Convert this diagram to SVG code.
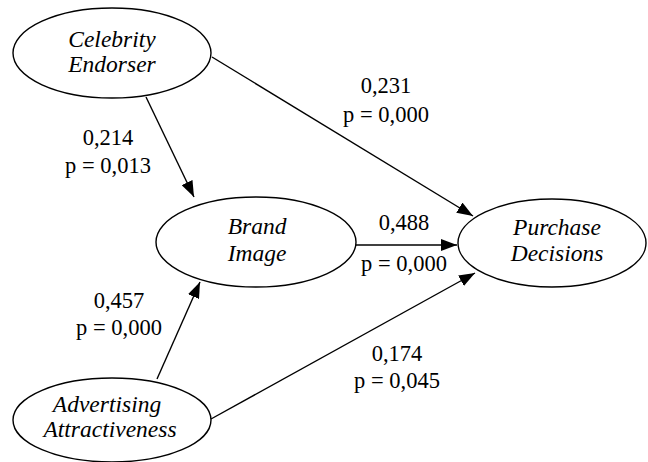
<svg xmlns="http://www.w3.org/2000/svg" width="648" height="462" viewBox="0 0 648 462">
  <defs>
    <marker id="arrow" viewBox="0 0 16 12" refX="16" refY="6" markerWidth="16" markerHeight="12" markerUnits="userSpaceOnUse" orient="auto">
      <path d="M0,0 L16,6 L0,12 Z" fill="#000"/>
    </marker>
    <style>
      .node ellipse { fill: #fff; stroke: #000; stroke-width: 1.4; }
      .node text { font-family: "Liberation Serif", "Times New Roman", serif; font-style: italic; font-size: 23.5px; text-anchor: middle; fill: #000; }
      .edges line { stroke: #000; stroke-width: 1.4; marker-end: url(#arrow); }
      .lbl { font-family: "Liberation Serif", "Times New Roman", serif; font-size: 22.5px; text-anchor: middle; fill: #000; }
    </style>
  </defs>
  <rect width="648" height="462" fill="#fff"/>

  <!-- paths between constructs -->
  <g id="edges" class="edges">
    <line x1="212" y1="57" x2="473" y2="216"/>
    <line x1="146" y1="97" x2="194" y2="197"/>
    <line x1="356" y1="245" x2="457" y2="245"/>
    <line x1="157" y1="379" x2="200" y2="282"/>
    <line x1="211" y1="419" x2="475" y2="273"/>
  </g>

  <!-- path coefficients -->
  <g id="labels">
    <text class="lbl" x="386" y="93">0,231</text>
    <text class="lbl" x="386" y="122">p = 0,000</text>
    <text class="lbl" x="108" y="145">0,214</text>
    <text class="lbl" x="108" y="173">p = 0,013</text>
    <text class="lbl" x="404" y="230">0,488</text>
    <text class="lbl" x="404" y="271">p = 0,000</text>
    <text class="lbl" x="119" y="308">0,457</text>
    <text class="lbl" x="119" y="335">p = 0,000</text>
    <text class="lbl" x="397" y="361">0,174</text>
    <text class="lbl" x="397" y="388">p = 0,045</text>
  </g>

  <g id="celebrity-endorser" class="node">
    <ellipse cx="112" cy="53" rx="99" ry="45"/>
    <text x="112" y="47">Celebrity</text>
    <text x="112" y="72">Endorser</text>
  </g>

  <g id="brand-image" class="node">
    <ellipse cx="256" cy="242" rx="100" ry="45"/>
    <text x="257" y="234">Brand</text>
    <text x="257" y="261">Image</text>
  </g>

  <g id="purchase-decisions" class="node">
    <ellipse cx="552" cy="243" rx="94" ry="44"/>
    <text x="557" y="235">Purchase</text>
    <text x="557" y="261">Decisions</text>
  </g>

  <g id="advertising-attractiveness" class="node">
    <ellipse cx="112" cy="420" rx="99" ry="42"/>
    <text x="107" y="412">Advertising</text>
    <text x="110" y="437">Attractiveness</text>
  </g>
</svg>
